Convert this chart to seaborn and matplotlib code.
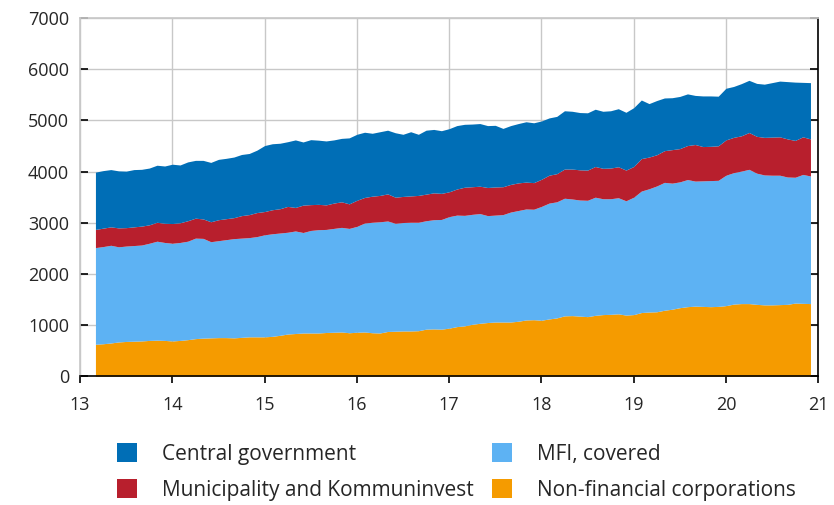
import numpy as np
import pandas as pd
import seaborn as sns
import matplotlib.pyplot as plt
from matplotlib.patches import Patch

# Monthly data, end of month, Feb 2013 - Nov 2020 (SEK bn)
start_month = "2013-02"
n_months = 94

central_gov = [1120, 1125, 1120, 1115, 1105, 1120, 1110, 1110, 1115, 1120, 1160,
               1130, 1150, 1130, 1145, 1160, 1180, 1180, 1185, 1195, 1195, 1220, 1290,
               1290, 1280, 1265, 1320, 1235, 1270, 1255, 1250, 1235, 1240, 1290, 1290,
               1275, 1230, 1245, 1245, 1260, 1215, 1255, 1195, 1250, 1240, 1225, 1235,
               1240, 1230, 1225, 1225, 1210, 1205, 1140, 1150, 1160, 1180, 1170, 1140,
               1120, 1120, 1140, 1130, 1120, 1120, 1120, 1115, 1120, 1135, 1130, 1150,
               1145, 1045, 1060, 1030, 1015, 1020, 1010, 960, 990, 985, 970, 1010,
               995, 1020, 1020, 1035, 1040, 1065, 1090, 1120, 1140, 1065, 1100]

municipality = [355, 360, 360, 370, 360, 365, 370, 360, 370, 375, 385,
                385, 400, 390, 380, 390, 410, 410, 410, 440, 450, 470, 455,
                470, 475, 505, 460, 535, 505, 495, 480, 495, 500, 480, 510,
                500, 510, 515, 530, 510, 510, 515, 525, 520, 525, 510, 485,
                510, 550, 540, 535, 550, 550, 545, 540, 540, 525, 520, 530,
                545, 550, 570, 585, 590, 590, 600, 595, 600, 605, 600, 600,
                635, 620, 610, 620, 655, 650, 665, 715, 670, 670, 675, 690,
                690, 690, 720, 720, 735, 745, 750, 745, 720, 735, 725]

mfi_covered = [1890, 1900, 1910, 1860, 1865, 1870, 1875, 1900, 1935, 1915, 1910,
               1915, 1925, 1965, 1950, 1880, 1895, 1915, 1940, 1940, 1940, 1960, 1995,
               2005, 2000, 1990, 2005, 1965, 2005, 2020, 2015, 2030, 2045, 2040, 2070,
               2130, 2160, 2175, 2160, 2110, 2120, 2125, 2120, 2120, 2135, 2145, 2180,
               2180, 2160, 2150, 2145, 2090, 2090, 2100, 2150, 2165, 2170, 2160, 2225,
               2265, 2270, 2300, 2280, 2270, 2275, 2310, 2265, 2260, 2270, 2235, 2295,
               2375, 2410, 2460, 2500, 2465, 2460, 2485, 2445, 2455, 2465, 2465, 2550,
               2570, 2590, 2625, 2565, 2540, 2535, 2530, 2490, 2460, 2520, 2495]

non_financial = [625, 635, 650, 670, 680, 685, 690, 700, 705, 700, 690,
                 700, 715, 735, 745, 750, 755, 755, 750, 760, 770, 770, 770,
                 780, 800, 825, 835, 845, 845, 845, 855, 860, 865, 850, 860,
                 865, 850, 845, 875, 880, 885, 885, 890, 920, 925, 920, 940,
                 970, 985, 1015, 1035, 1050, 1060, 1060, 1060, 1075, 1100, 1105, 1095,
                 1120, 1140, 1180, 1185, 1175, 1165, 1190, 1205, 1210, 1220, 1195, 1205,
                 1245, 1255, 1260, 1290, 1310, 1340, 1360, 1370, 1365, 1360, 1365, 1380,
                 1410, 1420, 1420, 1405, 1395, 1395, 1400, 1405, 1430, 1425, 1420]

labels = ["Central government", "Municipality and Kommuninvest",
          "MFI, covered", "Non-financial corporations"]
colors = {"Central government": "#006eb6",
          "Municipality and Kommuninvest": "#b81f2d",
          "MFI, covered": "#5db2f3",
          "Non-financial corporations": "#f59b00"}
year_ticks = [13, 14, 15, 16, 17, 18, 19, 20, 21]

dates = pd.date_range(start_month, periods=n_months, freq="MS")
df = pd.DataFrame({
    "x": dates.year - 2000 + dates.month / 12,
    "Non-financial corporations": non_financial,
    "MFI, covered": mfi_covered,
    "Municipality and Kommuninvest": municipality,
    "Central government": central_gov,
})

sns.set_theme(style="white")
plt.rcParams["font.family"] = ["Open Sans", "DejaVu Sans"]

fig = plt.figure(figsize=(8.34, 5.05), dpi=100)
ax = fig.add_axes([0.096, 0.255, 0.885, 0.709])

stack_order = ["Non-financial corporations", "MFI, covered",
               "Municipality and Kommuninvest", "Central government"]
ax.stackplot(df["x"], [df[c] for c in stack_order],
             colors=[colors[c] for c in stack_order], linewidth=0, zorder=2)

ax.set_xlim(13, 21)
ax.set_ylim(0, 7000)
ax.set_xticks(year_ticks)
ax.set_yticks(range(0, 7001, 1000))
ax.grid(True, color="#c8c8c8", linewidth=1, zorder=0)
ax.set_axisbelow(True)

for side in ["top", "left"]:
    ax.spines[side].set_color("#c8c8c8")
for side in ["right", "bottom"]:
    ax.spines[side].set_color("black")
    ax.spines[side].set_linewidth(1.2)

ax.tick_params(axis="y", which="both", left=True, right=True, direction="in",
               length=6, width=1.2, color="black", labelsize=13, pad=8)
ax.tick_params(axis="x", bottom=True, direction="out", length=5, width=1.2,
               color="black", labelsize=13, pad=9)

# legend below the plot, two columns
handles = [Patch(facecolor=colors[l], edgecolor="none") for l in labels]
fig.legend(handles, labels, ncol=2, loc="center", bbox_to_anchor=(0.547, 0.065),
           frameon=False, fontsize=15, handlelength=0.95, handleheight=1.0,
           handletextpad=1.2, columnspacing=0.9, labelspacing=0.7)

fig.savefig("out.png", dpi=100)
